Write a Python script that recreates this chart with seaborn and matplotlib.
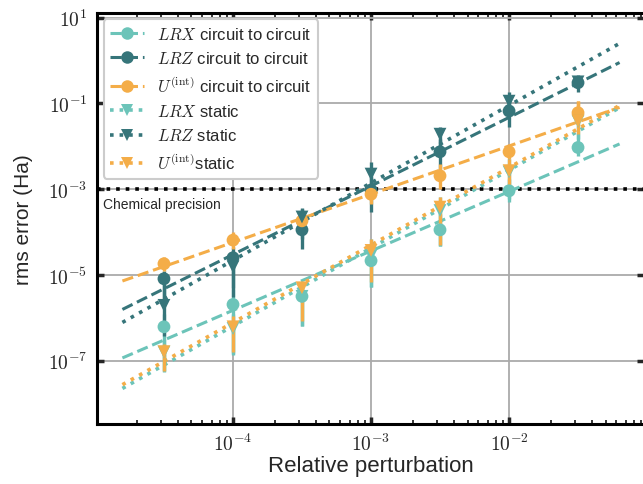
import numpy as np
import pandas as pd
import seaborn as sns
import matplotlib.pyplot as plt
from matplotlib.lines import Line2D
from matplotlib.ticker import LogLocator, NullLocator, FixedLocator, FuncFormatter

# relative perturbation of the parameters
perturbation = [3.16e-5, 1e-4, 3.16e-4, 1e-3, 3.16e-3, 1e-2, 3.16e-2]

# log10 of rms error (Ha): value, bar bottom, bar top
lrx_circ = [-6.21, -5.69, -5.50, -4.67, -3.95, -3.04, -2.03]
lrx_circ_lo = [-7.23, -6.84, -6.19, -5.28, -4.33, -3.30, -2.23]
lrx_circ_hi = [-5.90, -5.33, -5.20, -4.28, -3.58, -2.77, -1.72]

lrz_circ = [-5.09, -4.60, -3.95, -3.02, -2.13, -1.18, -0.52]
lrz_circ_lo = [-5.56, -5.30, -4.40, -3.53, -2.53, -1.56, -0.74]
lrz_circ_hi = [-4.90, -4.35, -3.47, -2.72, -1.84, -0.91, -0.33]

u_circ = [-4.74, -4.19, -3.74, -3.12, -2.69, -2.13, -1.22]
u_circ_lo = [-4.90, -4.40, -3.93, -3.35, -3.00, -2.30, -1.37]
u_circ_hi = [-4.58, -4.00, -3.53, -2.88, -2.42, -1.95, -0.95]

lrx_stat = [-6.80, -6.25, -5.50, -4.55, -3.50, -2.60, -1.42]
lrx_stat_lo = [-7.26, -6.86, -6.19, -5.28, -4.33, -3.23, -1.84]
lrx_stat_hi = [-6.50, -5.90, -5.16, -4.16, -3.19, -2.30, -1.09]

lrz_stat = [-5.71, -4.81, -3.65, -2.65, -1.72, -0.95, -0.50]
lrz_stat_lo = [-6.42, -5.51, -4.16, -3.23, -2.07, -1.26, -0.63]
lrz_stat_hi = [-5.21, -4.44, -3.44, -2.37, -1.56, -0.74, -0.40]

u_stat = [-6.79, -6.21, -5.30, -4.43, -3.42, -2.57, -1.41]
u_stat_lo = [-7.23, -6.79, -6.07, -5.16, -4.30, -3.12, -1.72]
u_stat_hi = [-6.60, -5.95, -5.16, -4.16, -3.19, -2.30, -0.95]

chem_precision = 1e-3

light = "#6cc4b9"
dark = "#36757a"
orange = "#f4ad48"

series = [
    (r"$LRX$ circuit to circuit", lrx_circ, lrx_circ_lo, lrx_circ_hi, light, "o", "--"),
    (r"$LRZ$ circuit to circuit", lrz_circ, lrz_circ_lo, lrz_circ_hi, dark, "o", "--"),
    (r"$U^{(\mathrm{int})}$ circuit to circuit", u_circ, u_circ_lo, u_circ_hi, orange, "o", "--"),
    (r"$LRX$ static", lrx_stat, lrx_stat_lo, lrx_stat_hi, light, "v", ":"),
    (r"$LRZ$ static", lrz_stat, lrz_stat_lo, lrz_stat_hi, dark, "v", ":"),
    (r"$U^{(\mathrm{int})}$static", u_stat, u_stat_lo, u_stat_hi, orange, "v", ":"),
]

sns.set_style("ticks")
plt.rcParams["font.family"] = ["Liberation Sans", "DejaVu Sans"]
plt.rcParams["mathtext.fontset"] = "cm"

fig = plt.figure(figsize=(6.43, 4.85), dpi=100)
ax = fig.add_axes([97 / 643, 60 / 485, 547 / 643, 411.5 / 485])
ax.set_xscale("log")
ax.set_yscale("log")

x = np.array(perturbation)
xfit = np.array([x[0] / 2, x[-1] * 2])
handles = []
for label, val, lo, hi, color, marker, ls in series:
    y = 10 ** np.array(val)
    ylo = 10 ** np.array(lo)
    yhi = 10 ** np.array(hi)
    # power-law fit in log-log space
    slope, icpt = np.polyfit(np.log10(x), np.array(val), 1)
    yfit = 10 ** (icpt + slope * np.log10(xfit))
    lw = 2.2 if ls == "--" else 2.6
    sns.lineplot(x=xfit, y=yfit, ax=ax, color=color, linestyle=ls,
                 lw=lw, estimator=None, zorder=3)
    ax.errorbar(x, y, yerr=[y - ylo, yhi - y], fmt="none", ecolor=color,
                elinewidth=2.4, capsize=0, zorder=4)
    df = pd.DataFrame({"x": x, "y": y})
    sns.scatterplot(data=df, x="x", y="y", ax=ax, color=color, marker=marker,
                    s=85, edgecolor="none", linewidth=0, zorder=5)
    handles.append(Line2D([], [], color=color, ls=ls, lw=lw, marker=marker,
                          markersize=9, markeredgewidth=0, label=label))

ax.axhline(chem_precision, color="black", ls=":", lw=2.6, zorder=2)
ax.text(1.14e-5, 4.5e-4, "Chemical precision", fontsize=10, ha="left", va="center")

ax.set_xlim(1.034e-5, 0.095)
ax.set_ylim(10 ** -8.476, 10 ** 1.117)
pow_fmt = FuncFormatter(lambda v, _: r"$10^{%d}$" % round(np.log10(v)))
ax.xaxis.set_major_locator(FixedLocator([1e-4, 1e-3, 1e-2]))
ax.xaxis.set_minor_locator(LogLocator(base=10, subs=np.arange(2, 10), numticks=20))
ax.xaxis.set_major_formatter(pow_fmt)
ax.yaxis.set_major_locator(FixedLocator([1e1, 1e-1, 1e-3, 1e-5, 1e-7]))
ax.yaxis.set_minor_locator(NullLocator())
ax.yaxis.set_major_formatter(pow_fmt)

ax.grid(True, which="major", color="#aaaaaa", lw=1.3, zorder=0)
ax.set_axisbelow(True)
for sp in ax.spines.values():
    sp.set_linewidth(2.2)
    sp.set_color("black")
ax.tick_params(which="major", direction="in", top=True, right=True,
               length=5, width=2.5, labelsize=14, pad=7)
ax.tick_params(axis="x", which="major", pad=6)
ax.tick_params(which="minor", direction="in", top=True, right=True,
               length=3, width=1.3)

ax.set_xlabel("Relative perturbation", fontsize=16, labelpad=1)
ax.set_ylabel("rms error (Ha)", fontsize=15, labelpad=11)

leg = ax.legend(handles=handles, loc="upper left", fontsize=12, frameon=True,
                framealpha=1, edgecolor="#cccccc", borderaxespad=0.4)
leg.get_frame().set_linewidth(1.5)

fig.savefig("out.png", dpi=100)
